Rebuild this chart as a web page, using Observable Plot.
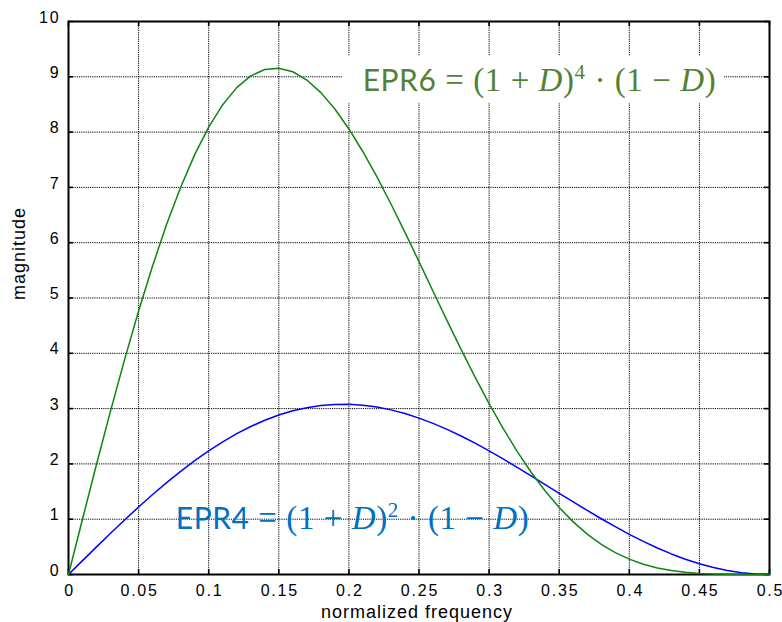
<!DOCTYPE html>
<html>
<head>
<meta charset="utf-8">
<script src="https://cdn.jsdelivr.net/npm/d3@7"></script>
<script src="https://cdn.jsdelivr.net/npm/@observablehq/plot@0.6"></script>
<style>
  body { margin: 0; background: #fff; }
  #chart svg { display: block; }
</style>
</head>
<body>
<div id="chart"></div>
<script>
// ---- data ----
const freq = [0,0.01,0.02,0.03,0.04,0.05,0.06,0.07,0.08,0.09,0.10,0.11,0.12,0.13,0.14,0.15,0.16,0.17,0.18,0.19,0.20,
  0.21,0.22,0.23,0.24,0.25,0.26,0.27,0.28,0.29,0.30,0.31,0.32,0.33,0.34,0.35,0.36,0.37,0.38,0.39,0.40,
  0.41,0.42,0.43,0.44,0.45,0.46,0.47,0.48,0.49,0.50];
const epr4 = [0,0.251,0.500,0.746,0.987,1.221,1.446,1.662,1.866,2.058,2.236,2.399,2.546,2.676,2.789,2.883,2.960,3.017,3.056,3.076,3.078,
  3.061,3.027,2.977,2.910,2.828,2.733,2.624,2.505,2.375,2.236,2.090,1.939,1.784,1.627,1.469,1.312,1.158,1.008,0.864,0.727,
  0.598,0.479,0.372,0.276,0.193,0.125,0.071,0.031,0.008,0];
const epr6 = [0,1.003,1.993,2.958,3.886,4.764,5.583,6.332,7.004,7.592,8.090,8.495,8.804,9.016,9.133,9.156,9.091,8.941,8.714,8.417,8.057,
  7.645,7.190,6.700,6.186,5.657,5.122,4.591,4.070,3.568,3.090,2.642,2.227,1.849,1.510,1.211,0.952,0.731,0.546,0.396,0.278,
  0.186,0.119,0.071,0.039,0.019,0.008,0.003,0.001,0,0];
const xTicks = [0,0.05,0.1,0.15,0.2,0.25,0.3,0.35,0.4,0.45,0.5];
const xTickLabels = ["0","0.05","0.1","0.15","0.2","0.25","0.3","0.35","0.4","0.45","0.5"];
const yTicks = [0,1,2,3,4,5,6,7,8,9,10];
const yTickLabels = ["0","1","2","3","4","5","6","7","8","9","10"];
const xLabel = "normalized frequency";
const yLabel = "magnitude";
const noteNames = ["EPR6", "EPR4"];
const notePowers = ["4", "2"];
const noteX = [0.2098, 0.0765];
const noteY = [8.92, 1.0];

// ---- layout / style ----
const W = 782, H = 622, mL = 68, mR = 13, mT = 21, mB = 48;
const fw = W - mL - mR, fh = H - mT - mB;
const sup = {"2": "\u00B2", "4": "\u2074"};
const notes = noteNames.map((name, i) => ({
  name, power: notePowers[i], x: noteX[i], y: noteY[i],
  label: `${name} = (1 + D)${sup[notePowers[i]]} \u00B7 (1 \u2212 D)`
}));
const rows4 = freq.map((f, i) => ({f, m: epr4[i]}));
const rows6 = freq.map((f, i) => ({f, m: epr6[i]}));
const gridStyle = {stroke: "#000", strokeOpacity: 1, strokeWidth: 1, strokeDasharray: "1.2,1"};
const tickStyle = {stroke: "#000", strokeWidth: 1.6};

const chart = Plot.plot({
  width: W, height: H,
  marginLeft: mL, marginRight: mR, marginTop: mT, marginBottom: mB,
  style: {fontFamily: "'Liberation Sans', Arial, Helvetica, sans-serif", letterSpacing: "1.8px", background: "#fff", color: "#000"},
  x: {domain: [0, 0.5], axis: null},
  y: {domain: [0, 10], axis: null},
  marks: [
    Plot.gridX(xTicks, gridStyle),
    Plot.gridY(yTicks, gridStyle),
    Plot.text([notes[0]], {x: "x", y: "y", text: "label", textAnchor: "start", lineAnchor: "middle", fontSize: 30, fill: "#548235"}),
    Plot.text([notes[1]], {x: "x", y: "y", text: "label", textAnchor: "start", lineAnchor: "middle", fontSize: 30, fill: "#0070C0"}),
    Plot.ruleX(xTicks, {x: d => d, insetTop: fh - 5, ...tickStyle}),
    Plot.ruleX(xTicks, {x: d => d, insetBottom: fh - 5, ...tickStyle}),
    Plot.ruleY(yTicks, {y: d => d, insetRight: fw - 5, ...tickStyle}),
    Plot.ruleY(yTicks, {y: d => d, insetLeft: fw - 5, ...tickStyle}),
    Plot.frame({stroke: "#000", strokeWidth: 2}),
    Plot.line(rows4, {x: "f", y: "m", stroke: "#0000ff", strokeWidth: 1.5}),
    Plot.line(rows6, {x: "f", y: "m", stroke: "#0c870c", strokeWidth: 1.5}),
    Plot.axisX(xTicks, {anchor: "bottom", tickSize: 0, tickPadding: 10, dx: 1, fontSize: 16, label: null,
      tickFormat: d => xTickLabels[xTicks.indexOf(d)]}),
    Plot.axisY(yTicks, {anchor: "left", tickSize: 0, tickPadding: 8, dy: -4, fontSize: 16, label: null,
      tickFormat: d => yTickLabels[yTicks.indexOf(d)]}),
    Plot.text([xLabel], {frameAnchor: "bottom", text: d => d, dy: 43, dx: -2, fontSize: 18}),
    Plot.text([yLabel], {frameAnchor: "left", text: d => d, rotate: -90, dx: -49, dy: 2, fontSize: 18})
  ]
});
document.getElementById("chart").append(chart);

// ---- post styling of the annotation text ----
const svg = d3.select(chart);
svg.selectAll("text").filter(function () { return this.textContent === xLabel || this.textContent === yLabel; })
  .style("letter-spacing", "1px");

const serif = "'Liberation Serif', 'DejaVu Serif', serif";
svg.selectAll("text").filter(function () { return this.textContent.startsWith("EPR"); }).each(function () {
  const full = this.textContent;
  const note = notes.find(n => full.startsWith(n.name));
  const t = d3.select(this);
  t.text(null).style("letter-spacing", "0px");
  t.append("tspan").attr("font-family", "Lato, 'Open Sans', sans-serif").text(note.name);
  t.append("tspan").attr("font-family", serif).attr("font-size", 33).text(" = (1 + ");
  t.append("tspan").attr("font-family", serif).attr("font-size", 33).attr("font-style", "italic").text("D");
  t.append("tspan").attr("font-family", serif).attr("font-size", 33).text(")");
  t.append("tspan").attr("font-family", serif).attr("font-size", 21).attr("dy", -12).text(note.power);
  t.append("tspan").attr("font-family", serif).attr("font-size", 33).attr("dy", 12).text(" \u00B7 (1 \u2212 ");
  t.append("tspan").attr("font-family", serif).attr("font-size", 33).attr("font-style", "italic").text("D");
  t.append("tspan").attr("font-family", serif).attr("font-size", 33).text(")");
  t.attr("textLength", 353).attr("lengthAdjust", "spacing");
  if (note.name === "EPR6") {
    const b = this.getBBox();
    d3.select(this.parentNode).insert("rect", function () { return this.firstChild; })
      .attr("transform", t.attr("transform"))
      .attr("x", b.x - 20).attr("y", b.y - 4)
      .attr("width", b.width + 28).attr("height", b.height + 8)
      .attr("fill", "#fff");
  }
});
</script>
</body>
</html>
